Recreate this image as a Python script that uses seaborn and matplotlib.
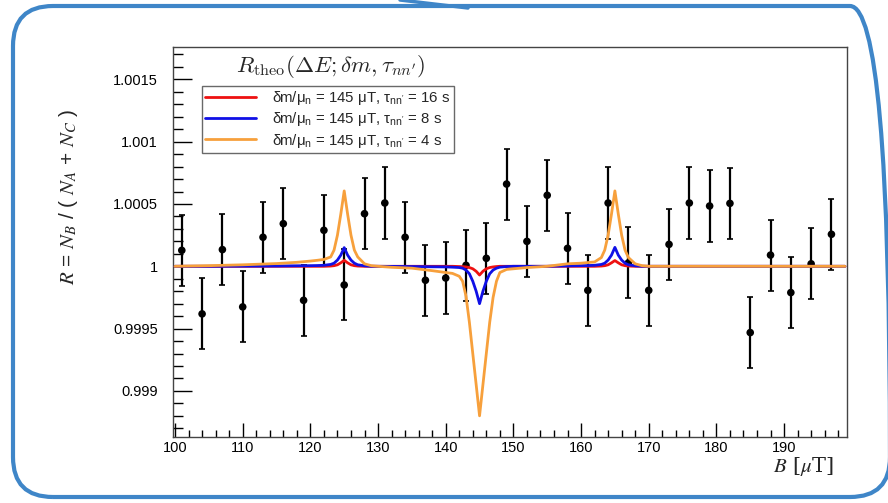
import numpy as np
import pandas as pd
import matplotlib
matplotlib.use("Agg")
import matplotlib.pyplot as plt
import seaborn as sns
from matplotlib.patches import FancyBboxPatch
from matplotlib.lines import Line2D
from matplotlib.ticker import MultipleLocator, FuncFormatter

# --- data: measured ratio R vs B ---
B_data = [101, 104, 107, 110, 113, 116, 119, 122, 125, 128, 131, 134, 137, 140, 143, 146, 149,
          152, 155, 158, 161, 164, 167, 170, 173, 176, 179, 182, 185, 188, 191, 194, 197]
R_data = [1.000128, 0.999618, 1.000134, 0.999674, 1.000233, 1.000342, 0.999727, 1.000289,
          0.999850, 1.000422, 1.000508, 1.000233, 0.999888, 0.999906, 1.000008, 1.000064,
          1.000660, 1.000200, 1.000570, 1.000144, 0.999807, 1.000508, 1.000028, 0.999807,
          1.000176, 1.000508, 1.000484, 1.000505, 0.999468, 1.000090, 0.999789, 1.000020,
          1.000257]
R_err = [0.000285] * len(B_data)

# --- theory curves (sampled B grid) ---
B_theo = [100, 105, 110, 115, 118, 120, 121, 122, 123, 123.5, 124, 124.5, 125, 125.5, 126,
          126.5, 127, 128, 129, 130, 132, 135, 138, 140, 141, 142, 142.5, 143, 143.5, 144,
          144.5, 145, 145.5, 146, 146.5, 147, 147.5, 148, 149, 150, 152, 155, 158, 160, 161,
          162, 163, 163.5, 164, 164.5, 165, 165.5, 166, 166.5, 167, 168, 169, 170, 175, 180,
          190, 199]
R_tau16 = [1.0, 1.0, 1.0, 1.0, 1.0, 1.0, 1.0, 1.0, 1.000002, 1.000005, 1.000012, 1.000028,
           1.000048, 1.000028, 1.000012, 1.000005, 1.000002, 1.0, 1.0, 1.0, 1.0, 1.0, 1.0,
           1.0, 1.0, 0.999998, 0.999997, 0.999995, 0.99999, 0.99998, 0.99996, 0.99993,
           0.99996, 0.99998, 0.99999, 0.999995, 0.999998, 1.0, 1.0, 1.0, 1.0, 1.0, 1.0, 1.0,
           1.0, 1.0, 1.000002, 1.000005, 1.000012, 1.000028, 1.000046, 1.000028, 1.000012,
           1.000005, 1.000002, 1.0, 1.0, 1.0, 1.0, 1.0, 1.0, 1.0]
R_tau8 = [1.0, 1.0, 1.000001, 1.000002, 1.000004, 1.000005, 1.000006, 1.000008, 1.000015,
          1.000025, 1.00005, 1.00009, 1.00015, 1.00009, 1.00005, 1.000025, 1.000012,
          1.000004, 1.0, 1.0, 0.999999, 0.999998, 0.999996, 0.999995, 0.999993, 0.99999,
          0.999985, 0.99997, 0.99994, 0.99988, 0.9998, 0.9997, 0.9998, 0.99988, 0.99994,
          0.99997, 0.999985, 0.999993, 0.999998, 1.0, 1.0, 1.0, 1.000003, 1.000005,
          1.000006, 1.000008, 1.000015, 1.000025, 1.00005, 1.00009, 1.000152, 1.00009,
          1.00005, 1.000025, 1.000012, 1.000004, 1.0, 1.0, 1.0, 1.0, 1.0, 1.0]
R_tau4 = [1.0, 1.000005, 1.000012, 1.000022, 1.000032, 1.000042, 1.000048, 1.000055,
          1.000075, 1.00013, 1.00025, 1.00042, 1.000605, 1.00042, 1.00025, 1.00013,
          1.000075, 1.00002, 1.000005, 1.0, 0.999992, 0.999985, 0.999965, 0.99995,
          0.999943, 0.99992, 0.99988, 0.99976, 0.99955, 0.9993, 0.99905, 0.9988, 0.99905,
          0.9993, 0.99955, 0.99975, 0.99988, 0.99995, 0.999975, 0.99998, 0.99999, 1.0,
          1.00002, 1.000025, 1.00003, 1.000035, 1.00007, 1.00013, 1.00025, 1.00042,
          1.000605, 1.00042, 1.00025, 1.00013, 1.00007, 1.00002, 1.000005, 1.0, 1.0, 1.0,
          1.0, 1.0]

labels = ["δm/μ$_{\\rm n}$ = 145 μT, τ$_{\\rm nn'}$ = 16 s",
          "δm/μ$_{\\rm n}$ = 145 μT, τ$_{\\rm nn'}$ = 8 s",
          "δm/μ$_{\\rm n}$ = 145 μT, τ$_{\\rm nn'}$ = 4 s"]
colors = ["#ee1111", "#1010e6", "#f7a03c"]

theo = pd.concat([
    pd.DataFrame({"B": B_theo, "R": R_tau16, "curve": labels[0]}),
    pd.DataFrame({"B": B_theo, "R": R_tau8, "curve": labels[1]}),
    pd.DataFrame({"B": B_theo, "R": R_tau4, "curve": labels[2]}),
])
meas = pd.DataFrame({"B": B_data, "R": R_data, "err": R_err})

# --- style ---
sns.set_theme(style="white")
plt.rcParams['font.family'] = ['Liberation Sans', 'DejaVu Sans']
plt.rcParams['mathtext.fontset'] = 'custom'
plt.rcParams['mathtext.rm'] = 'Liberation Sans'

fig = plt.figure(figsize=(8.88, 5.03), dpi=100)
fig.patch.set_facecolor("white")
ax = fig.add_axes([173 / 888, 66 / 503, 674 / 888, 390 / 503])

# data points with error bars
ax.errorbar(meas["B"], meas["R"], yerr=meas["err"], fmt="none", ecolor="black",
            elinewidth=1.6, capsize=2.2, capthick=1.2, zorder=2)
sns.scatterplot(data=meas, x="B", y="R", color="black", s=30, edgecolor="none",
                ax=ax, zorder=3)

# theory curves
sns.lineplot(data=theo, x="B", y="R", hue="curve", palette=colors, sort=False,
             estimator=None, linewidth=2.0, ax=ax, legend=False, zorder=4)

ax.set_xlim(99.7, 199.3)
ax.set_ylim(0.99863, 1.00176)
ax.set_xlabel("")
ax.set_ylabel("")

ax.xaxis.set_major_locator(MultipleLocator(10))
ax.xaxis.set_minor_locator(MultipleLocator(2))
ax.yaxis.set_major_locator(MultipleLocator(0.0005))
ax.yaxis.set_minor_locator(MultipleLocator(0.0001))
ax.yaxis.set_major_formatter(FuncFormatter(lambda v, p: "%g" % round(v, 6)))

ax.tick_params(axis="both", which="both", direction="in", colors="black",
               labelsize=10.5, left=True, bottom=True, top=False, right=False)
ax.tick_params(axis="y", which="major", length=14, width=1, pad=11)
ax.tick_params(axis="y", which="minor", length=7, width=1)
ax.tick_params(axis="x", which="major", length=10, width=1, pad=3)
ax.tick_params(axis="x", which="minor", length=5, width=1)
for s in ax.spines.values():
    s.set_color("#444444")
    s.set_linewidth(1.0)

# legend
handles = [plt.Line2D([], [], color=c, lw=2.0) for c in colors]
leg = ax.legend(handles, labels, loc="upper left", bbox_to_anchor=(29 / 674, 1 - 39 / 390),
                fontsize=10.8, frameon=True, fancybox=False, handlelength=3.4,
                handletextpad=1.1, borderpad=0.2, labelspacing=0.22, borderaxespad=0)
leg.get_frame().set_edgecolor("#444444")
leg.get_frame().set_linewidth(1.0)

fig.text(331 / 888, 1 - 66 / 503, r"$R_{\rm theo}(\Delta E;\delta m,\tau_{nn'})$",
         ha="center", va="center", fontsize=16.5, math_fontfamily="cm")

# axis titles
fig.text(68 / 888, 1 - 197 / 503, r"$R$ = $N_B$ / ( $N_A$ + $N_C$ )",
         rotation=90, ha="center", va="center", fontsize=15, math_fontfamily="stix")
fig.text(834 / 888, 1 - 467 / 503, r"$B$ [$\mu$T]", ha="right", va="center",
         fontsize=15, family="DejaVu Serif", math_fontfamily="stix")

# rounded frame around the canvas, with the small pointer stroke at the top
frame = FancyBboxPatch((13, 6), 877, 491, boxstyle="round,pad=0,rounding_size=40",
                       transform=None, fill=False, edgecolor="#3f86c8", linewidth=3,
                       zorder=10)
fig.patches.append(frame)
fig.lines.append(Line2D([400 / 888, 468 / 888], [1.0, 1 - 8 / 503],
                        transform=fig.transFigure, color="#3f86c8", lw=2.5))

fig.savefig("out.png", dpi=100)
